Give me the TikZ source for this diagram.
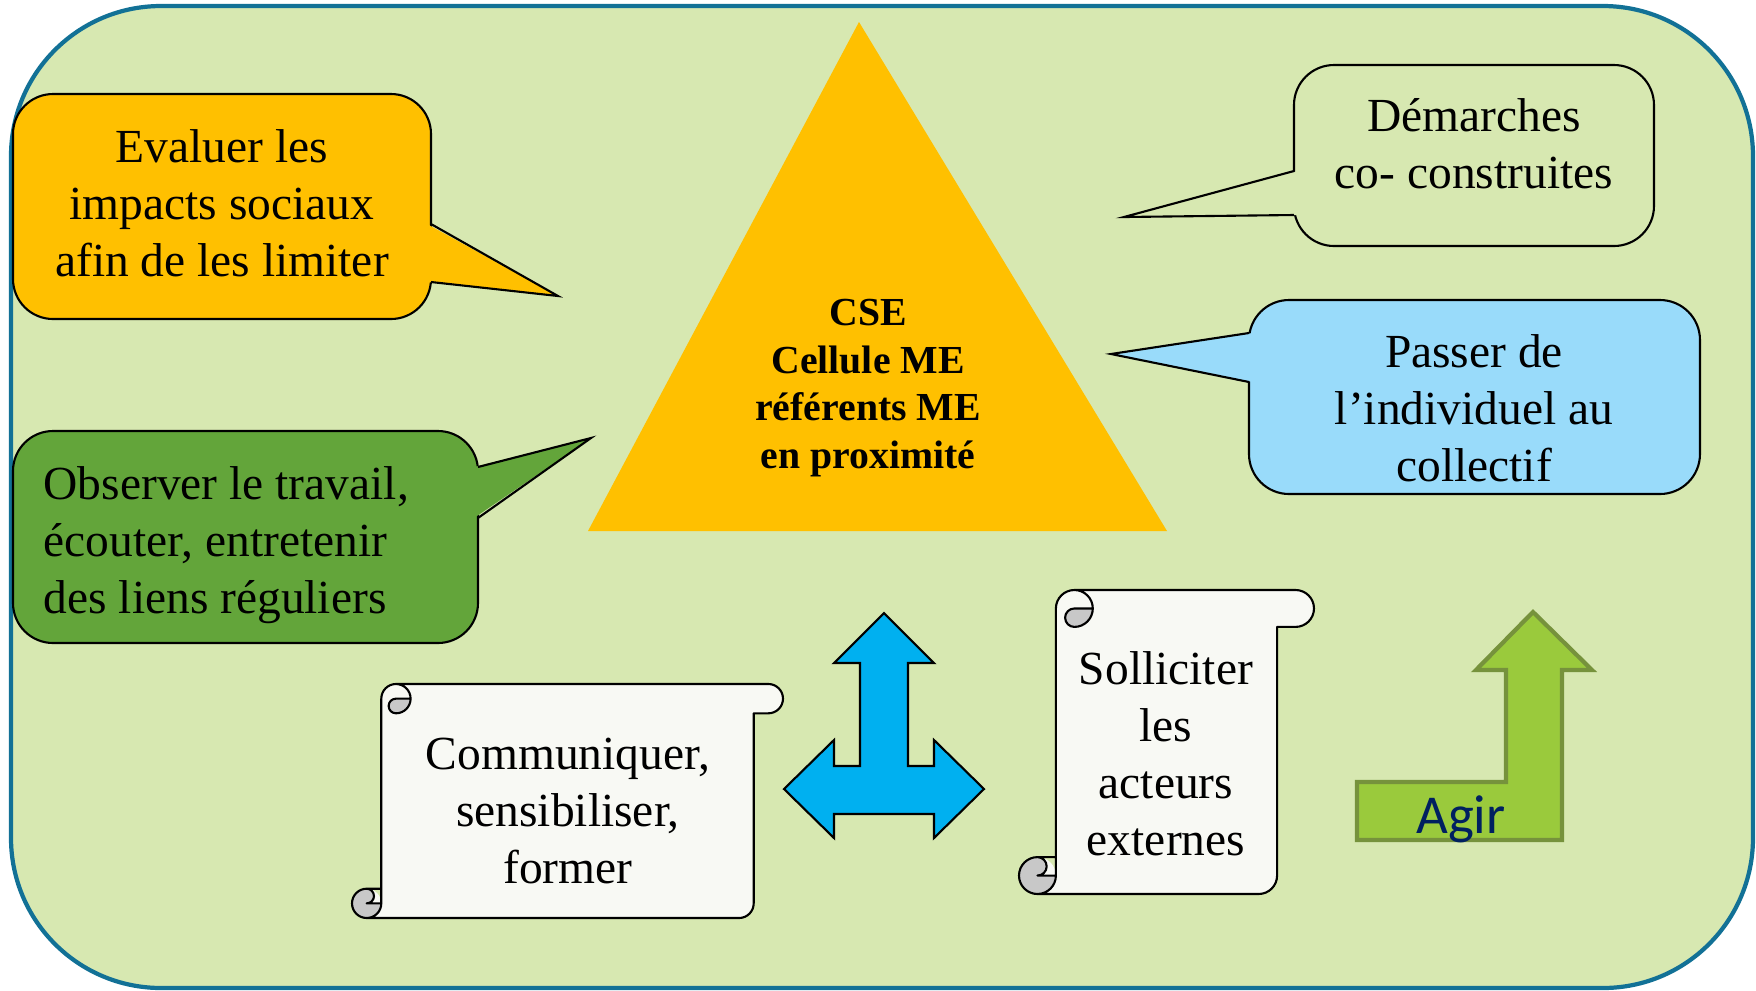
\documentclass[tikz,border=0pt]{standalone}
\usepackage{fontspec}
\setmainfont{Liberation Serif}
\newfontfamily\agirfont{Carlito}
\definecolor{bgmint}{RGB}{215,232,177}
\definecolor{framebleu}{RGB}{18,113,150}
\definecolor{orangeME}{RGB}{255,192,0}
\definecolor{vertME}{RGB}{99,165,58}
\definecolor{bleuciel}{RGB}{153,219,250}
\definecolor{bleuvif}{RGB}{0,176,240}
\definecolor{parchemin}{RGB}{248,249,244}
\definecolor{grisroule}{RGB}{200,200,200}
\definecolor{vertagir}{RGB}{154,202,60}
\definecolor{oliveagir}{RGB}{118,146,60}
\definecolor{marine}{RGB}{0,32,96}
\usetikzlibrary{calc}

\tikzset{
  pics/scroll/.style n args={3}{code={
    \pgfmathsetmacro\scW{#1}
    \pgfmathsetmacro\scH{#2}
    \pgfmathsetmacro\scC{#3}
    \pgfmathsetmacro\scA{#3/2}
    \pgfmathsetmacro\scQ{#3/4}
    \fill[parchemin] (\scA,\scH-\scA) circle[radius=\scA];
    \fill[parchemin] (\scA,\scH) arc[start angle=90,delta angle=-90,radius=\scA]
      -- (\scC,\scA) arc[start angle=180,delta angle=90,radius=\scA]
      -- (\scW-\scA,0) arc[start angle=-90,delta angle=180,radius=\scA]
      -- (\scW-\scC,\scC) -- (\scW-\scC,\scH-\scA)
      arc[start angle=0,delta angle=90,radius=\scA] -- cycle;
    \fill[grisroule] (2*\scC,\scA) arc[start angle=0,delta angle=90,radius=\scA]
      arc[start angle=90,delta angle=180,radius=\scQ] -- cycle;
    \fill[grisroule] (\scC,\scH-\scA) arc[start angle=0,delta angle=270,radius=\scA]
      arc[start angle=270,delta angle=180,radius=\scQ] -- cycle;
    \draw[line width=0.6pt, line join=round]
      (\scC,\scH-\scC) -- (\scC,\scA) arc[start angle=180,delta angle=90,radius=\scA]
      -- (\scW-\scA,0) arc[start angle=-90,delta angle=180,radius=\scA]
      -- (\scW-\scC,\scC) -- (\scW-\scC,\scH-\scA)
      arc[start angle=0,delta angle=90,radius=\scA]
      -- (\scA,\scH) arc[start angle=90,delta angle=180,radius=\scA] -- cycle
      (1.5*\scC,0) arc[start angle=-90,delta angle=180,radius=\scA]
      arc[start angle=90,delta angle=180,radius=\scQ] -- (2*\scC,\scA)
      (\scA,\scH-\scC) arc[start angle=-90,delta angle=180,radius=\scQ] -- (\scC,\scH-\scA)
      (\scA,\scH) arc[start angle=90,delta angle=-90,radius=\scA] -- (\scC,\scH-\scC);
  }}
}

\begin{document}
\begin{tikzpicture}[
        x=0.01cm, y=-0.01cm,
        frame/.style={draw=framebleu, fill=bgmint, line width=1.2pt, rounded corners=1.5cm},
        bubble/.style={draw=black, line width=0.6pt, rounded corners=0.4cm},
        tail/.style={draw=black, line width=0.6pt, line join=miter},
        bubbletext/.style={inner sep=0pt, align=center,
                           font=\fontsize{13.5}{16.2}\selectfont},
        cibletext/.style={inner sep=0pt, align=center,
                          font=\bfseries\fontsize{11.3}{13.6}\selectfont},
        bigarrow/.style={draw=black, line width=0.6pt, line join=miter}
      ]
        \useasboundingbox (0,0) rectangle (1756,990);
        \path[frame] (11,6) rectangle (1753,988);

        \fill[orangeME] (859,22) -- (1167,531) -- (588,531) -- cycle;
        \node[cibletext] (cse) at (868,388)
          {CSE\\Cellule ME\\référents ME\\en proximité};

        \draw[bubble, fill=orangeME] (13,94) rectangle (431,319);
        \fill[orangeME] (427,224) -- (558,296) -- (427,282) -- cycle;
        \draw[tail] (431,224) -- (558,296) -- (431,282);
        \node[bubbletext] (evaluer) at (222,203)
          {Evaluer les\\impacts sociaux\\afin de les limiter};

        \draw[bubble, fill=vertME] (13,431) rectangle (478,643);
        \fill[vertME] (474,467) -- (591,438) -- (474,518) -- cycle;
        \draw[tail] (478,467) -- (591,438) -- (478,518);
        \node[bubbletext, align=left, anchor=west] (observer) at (43,545)
          {Observer le travail,\\écouter, entretenir\\des liens réguliers};

        \draw[bubble, fill=bgmint] (1294,65) rectangle (1654,246);
        \fill[bgmint] (1298,171) -- (1124,217) -- (1298,215) -- cycle;
        \draw[tail] (1294,171) -- (1124,217) -- (1294,215);
        \node[bubbletext] (demarches) at (1474,144)
          {Démarches\\co- construites};

        \draw[bubble, fill=bleuciel] (1249,300) rectangle (1700,494);
        \fill[bleuciel] (1253,333) -- (1111,354) -- (1253,382) -- cycle;
        \draw[tail] (1249,333) -- (1111,354) -- (1249,382);
        \node[bubbletext] (passer) at (1474,408)
          {Passer de\\l’individuel au\\collectif};

        \pic at (352,684) {scroll={431}{234}{29.3}};
        \node[bubbletext] (communiquer) at (568,811)
          {Communiquer,\\sensibiliser,\\former};

        \pic at (1019,590) {scroll={295}{304}{36.9}};
        \node[bubbletext] (solliciter) at (1166,754)
          {Solliciter\\les\\acteurs\\externes};

        \draw[bigarrow, fill=bleuvif] (884,613) -- (934,663) -- (908,663) -- (908,766)
          -- (934,766) -- (934,740) -- (984,789) -- (934,838) -- (934,814)
          -- (834,814) -- (834,838) -- (784,789) -- (834,740) -- (834,766)
          -- (860,766) -- (860,663) -- (834,663) -- cycle;

        \draw[line width=1.2pt, draw=oliveagir, fill=vertagir, line join=miter]
          (1357,782) -- (1506,782) -- (1506,670) -- (1476,670) -- (1533,612)
          -- (1592,670) -- (1562,670) -- (1562,840) -- (1357,840) -- cycle;
        \node[inner sep=0pt, text=marine, font=\agirfont\fontsize{15.6}{18}\selectfont]
          (agir) at (1461,819) {Agir};
      \end{tikzpicture}
\end{document}
